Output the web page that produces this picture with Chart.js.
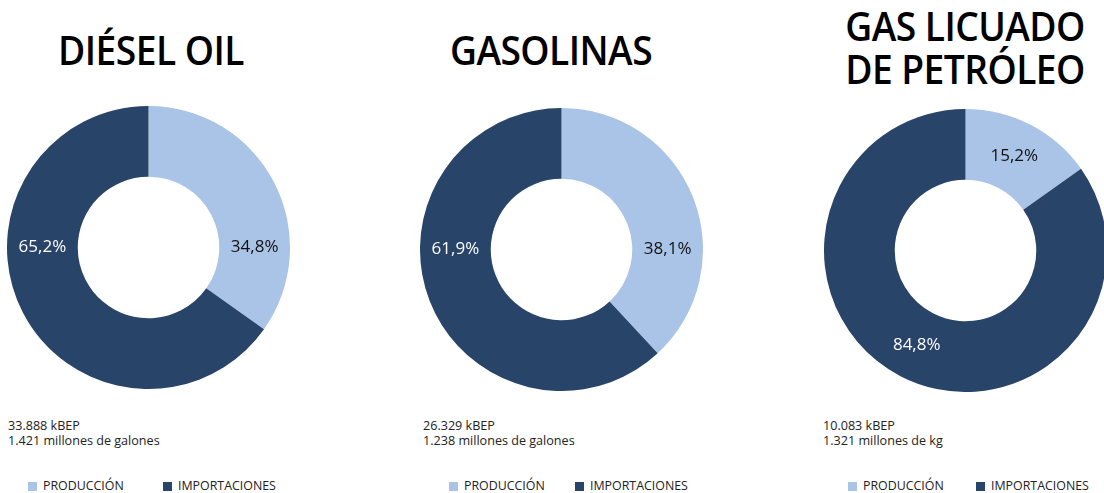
<!DOCTYPE html>
<html>
<head>
<meta charset="utf-8">
<script src="https://cdn.jsdelivr.net/npm/chart.js@4.4.1/dist/chart.umd.min.js"></script>
<style>
  html, body { margin:0; padding:0; background:#fff; }
  body { width:1104px; height:493px; overflow:hidden; position:relative; font-family:"Open Sans", "Noto Sans", sans-serif; }
  .title { position:absolute; font-family:"Open Sans", sans-serif; font-weight:600; font-size:40px; letter-spacing:-0.6px; color:#000; text-align:center; line-height:43px; white-space:nowrap; transform:translateX(-50%) scaleX(0.93); }
  .note { position:absolute; font-size:12.6px; line-height:15px; color:#222; white-space:nowrap; }
  .leg { position:absolute; font-size:12.4px; color:#222; white-space:nowrap; letter-spacing:0px; }
  .sw { position:absolute; width:9px; height:9px; }
  canvas { position:absolute; }
</style>
</head>
<body>
<script>
// ---- data ----
const categories = ['PRODUCCIÓN', 'IMPORTACIONES'];
const chartTitles = ['DIÉSEL OIL', 'GASOLINAS', 'GAS LICUADO<br>DE PETRÓLEO'];
const dieselValues = [34.8, 65.2];
const gasolinaValues = [38.1, 61.9];
const glpValues = [15.2, 84.8];
const dieselNotes = ['33.888 kBEP', '1.421 millones de galones'];
const gasolinaNotes = ['26.329 kBEP', '1.238 millones de galones'];
const glpNotes = ['10.083 kBEP', '1.321 millones de kg'];

const colors = ['#A9C4E7', '#284469'];
const labelColors = ['#111111', '#FFFFFF'];

const panels = [
  { values: dieselValues, title: chartTitles[0], notes: dieselNotes, horizontal: true,
    canvas: {left: 7, top: 106, size: 283}, titleX: 151, titleTop: 28,
    noteX: 8, legX: [28, 163] },
  { values: gasolinaValues, title: chartTitles[1], notes: gasolinaNotes, horizontal: true,
    canvas: {left: 420, top: 108, size: 283}, titleX: 551, titleTop: 28,
    noteX: 423, legX: [449, 575] },
  { values: glpValues, title: chartTitles[2], notes: glpNotes, horizontal: false,
    canvas: {left: 824, top: 109, size: 283}, titleX: 965, titleTop: 4,
    noteX: 823, legX: [848, 976] }
];

const labelPlugin = {
  id: 'sliceLabels',
  afterDatasetsDraw(chart) {
    const ctx = chart.ctx;
    const meta = chart.getDatasetMeta(0);
    const ds = chart.data.datasets[0];
    const horizontal = chart.options.plugins.sliceLabels.horizontal;
    ctx.save();
    ctx.font = '17px "Open Sans", sans-serif';
    ctx.textAlign = 'center';
    ctx.textBaseline = 'middle';
    meta.data.forEach((arc, i) => {
      const p = arc.getProps(['x','y','startAngle','endAngle','innerRadius','outerRadius'], true);
      let a = (p.startAngle + p.endAngle) / 2;
      if (horizontal) a = Math.cos(a) >= 0 ? 0 : Math.PI;
      const r = (p.innerRadius + p.outerRadius) / 2;
      const x = p.x + r * Math.cos(a);
      const y = p.y + r * Math.sin(a);
      ctx.fillStyle = labelColors[i];
      ctx.fillText(ds.data[i].toFixed(1).replace('.', ',') + '%', x, y);
    });
    ctx.restore();
  }
};

panels.forEach(p => {
  const t = document.createElement('div');
  t.className = 'title';
  t.style.left = p.titleX + 'px';
  t.style.top = p.titleTop + 'px';
  t.innerHTML = p.title;
  document.body.appendChild(t);

  const n = document.createElement('div');
  n.className = 'note';
  n.style.left = p.noteX + 'px';
  n.style.top = '418px';
  n.innerHTML = p.notes.join('<br>');
  document.body.appendChild(n);

  categories.forEach((c, i) => {
    const sw = document.createElement('div');
    sw.className = 'sw';
    sw.style.left = p.legX[i] + 'px';
    sw.style.top = '482px';
    sw.style.background = colors[i];
    document.body.appendChild(sw);
    const l = document.createElement('div');
    l.className = 'leg';
    l.style.left = (p.legX[i] + 15) + 'px';
    l.style.top = '477px';
    l.textContent = c;
    document.body.appendChild(l);
  });

  const cv = document.createElement('canvas');
  cv.width = p.canvas.size; cv.height = p.canvas.size;
  cv.style.left = p.canvas.left + 'px';
  cv.style.top = p.canvas.top + 'px';
  cv.style.width = p.canvas.size + 'px';
  cv.style.height = p.canvas.size + 'px';
  document.body.appendChild(cv);

  new Chart(cv, {
    type: 'doughnut',
    data: {
      labels: categories,
      datasets: [{ data: p.values, backgroundColor: colors, borderWidth: 0, hoverOffset: 0 }]
    },
    options: {
      responsive: false,
      animation: false,
      devicePixelRatio: 1,
      cutout: '50%',
      layout: { padding: 0 },
      plugins: {
        legend: { display: false },
        tooltip: { enabled: false },
        sliceLabels: { horizontal: p.horizontal }
      }
    },
    plugins: [labelPlugin]
  });
});
</script>
</body>
</html>
